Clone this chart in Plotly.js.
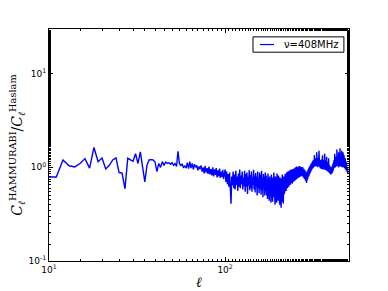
<!DOCTYPE html>
<html>
<head>
<meta charset="utf-8">
<script src="https://cdn.plot.ly/plotly-3.0.1.min.js"></script>
<style>html,body{margin:0;padding:0;background:#fff;}#chart{width:388px;height:291px;}</style>
</head>
<body>
<div id="chart"></div>
<script>
// multipole ell starts at 10, one value per integer ell
const ellStart = 10;
const seriesName = "ν=408MHz";
const ratio = [
// 10-60
0.79,0.79,1.20,1.04,1.01,1.10,1.24,0.98,1.63,1.15,1.26,0.96,1.05,1.20,1.26,0.88,0.87,0.59,1.25,1.20,
1.16,1.40,1.10,1.46,1.00,0.70,1.05,1.20,1.21,1.20,1.14,0.90,1.10,1.00,1.15,1.05,1.14,1.10,1.12,1.08,
1.12,1.05,1.10,1.02,1.48,1.10,1.05,1.08,1.00,1.03,0.98,
// 61-72
1.12,0.97,1.15,0.98,1.10,0.95,1.08,1.00,1.05,0.93,1.02,0.96,
// 73-99
1.05,0.90,1.00,0.86,1.04,0.88,0.98,0.85,1.02,0.84,0.96,0.82,1.00,0.80,0.95,0.83,0.98,0.78,0.93,0.80,
0.97,0.77,0.90,0.79,0.94,0.75,0.88,
// 100-170
0.95,0.70,0.90,0.66,0.85,0.62,0.88,0.60,0.41,0.80,0.64,0.90,0.60,0.84,0.58,0.92,0.65,0.80,0.56,0.86,
0.62,0.95,0.60,0.82,0.66,0.90,0.58,0.78,0.63,0.92,0.55,0.85,0.62,0.88,0.52,0.80,0.64,0.93,0.57,0.83,
0.60,0.90,0.55,0.78,0.65,0.94,0.58,0.82,0.54,0.87,0.62,0.80,0.50,0.90,0.60,0.76,0.53,0.88,0.59,0.83,
0.51,0.92,0.57,0.78,0.48,0.85,0.60,0.80,0.50,0.88,0.56,
// 171-215
0.82,0.50,0.75,0.46,0.86,0.52,0.70,0.44,0.80,0.50,0.74,0.42,0.84,0.55,0.68,0.43,0.78,0.48,0.88,0.52,
0.72,0.40,0.80,0.47,0.66,0.42,0.86,0.50,0.73,0.44,0.82,0.46,0.70,0.40,0.78,0.45,0.68,0.37,0.76,0.43,
0.84,0.48,0.72,0.41,0.80,
// 216-265
0.52,0.78,0.55,0.85,0.58,0.80,0.56,0.88,0.62,0.82,0.60,0.90,0.64,0.84,0.62,0.92,0.66,0.86,0.65,0.94,
0.68,0.85,0.70,0.95,0.67,0.88,0.72,0.96,0.70,0.90,0.74,0.98,0.72,0.92,0.76,1.00,0.74,0.93,0.78,1.02,
0.76,0.95,0.80,1.00,0.78,0.96,0.82,1.03,0.79,0.97,
// 266-305
0.82,1.02,0.80,0.98,0.84,1.00,0.81,0.96,0.83,1.01,0.80,0.95,0.78,0.97,0.79,0.92,0.75,0.94,0.74,0.88,
0.72,0.90,0.70,0.86,0.68,0.88,0.72,0.90,0.75,0.93,0.78,0.96,0.80,0.99,0.82,1.00,0.85,1.03,0.87,1.05,
// 306-345
0.90,1.08,0.92,1.10,0.95,1.12,0.96,1.15,0.98,1.18,1.00,1.14,1.02,1.20,1.01,1.35,1.04,1.22,1.05,1.18,
1.03,1.25,1.06,1.20,1.02,1.45,1.05,1.22,1.04,1.18,1.00,1.26,1.06,1.20,1.03,1.50,1.05,1.22,1.02,1.18,
// 346-410
1.00,1.15,0.98,1.20,1.00,1.14,0.97,1.22,1.01,1.16,0.96,1.35,0.99,1.18,0.98,1.12,0.95,1.20,0.99,1.14,
0.96,1.40,0.98,1.16,0.94,1.12,0.95,1.18,0.97,1.10,0.93,1.30,0.95,1.12,0.92,1.08,0.93,1.15,0.90,1.05,
0.91,1.25,0.89,1.03,0.88,1.06,0.87,1.00,0.86,1.02,0.85,0.98,0.84,1.00,0.86,0.97,0.85,1.00,0.87,1.02,
0.88,1.05,0.90,1.08,0.92,
// 411-490
1.10,0.95,1.14,0.98,1.20,1.00,1.16,1.02,1.40,1.03,1.20,1.00,1.25,1.04,1.18,1.02,1.30,1.05,1.22,1.03,
1.55,1.06,1.24,1.04,1.20,1.02,1.28,1.05,1.22,1.00,1.45,1.04,1.20,1.02,1.26,1.05,1.22,1.03,1.60,1.06,
1.25,1.04,1.20,1.02,1.30,1.05,1.24,1.03,1.50,1.04,1.22,1.00,1.28,1.03,1.20,1.01,1.45,1.02,1.22,1.00,
1.18,0.99,1.35,1.01,1.16,0.98,1.20,0.97,1.14,0.96,1.25,0.95,1.12,0.94,1.10,0.93,1.15,0.92,1.08,0.90,
// 491-500
1.05,0.90,1.02,0.88,1.00,0.87,0.98,0.86,0.95,0.88
];
const ell = ratio.map((_, i) => ellStart + i);

const xTickVals = [10, 100];
const xTickText = ["10<sup>1</sup>", "10<sup>2</sup>"];
const yTickVals = [0.1, 1, 10];
const yTickText = ["10<sup>-1</sup>", "10<sup>0</sup>", "10<sup>1</sup>"];

const lineColor = "#0000ff";

const trace = {
  x: ell, y: ratio, type: "scatter", mode: "lines", name: seriesName,
  line: {color: lineColor, width: 1.4}, showlegend: false
};

const axisCommon = {
  type: "log", showgrid: false, zeroline: false, showline: true, linecolor: "#000", linewidth: 1,
  mirror: "ticks", ticks: "inside", ticklen: 4, tickwidth: 1, tickcolor: "#000",
  minor: {ticks: "inside", ticklen: 2, tickwidth: 1, tickcolor: "#000", showgrid: false},
  tickfont: {family: "DejaVu Sans", size: 9, color: "#000"}
};

// legend box in paper coordinates
const L = {x0: 0.680, x1: 0.983, y0: 0.900, y1: 0.966};
const layout = {
  width: 388, height: 291,
  margin: {l: 48.5, r: 39, t: 29, b: 29.5},
  paper_bgcolor: "#fff", plot_bgcolor: "#fff",
  xaxis: Object.assign({}, axisCommon, {
    range: [1, Math.log10(505)], tickvals: xTickVals, ticktext: xTickText,
    title: {text: "<i>ℓ</i>", font: {family: "DejaVu Serif", size: 14, color: "#000"}, standoff: 3}
  }),
  yaxis: Object.assign({}, axisCommon, {
    range: [-1, Math.log10(30)], tickvals: yTickVals, ticktext: yTickText,
    title: {text: "<i>C</i><sub><i>ℓ</i></sub><sup>HAMMURABI</sup>/<i>C</i><sub><i>ℓ</i></sub><sup>Haslam</sup>",
            font: {family: "DejaVu Serif", size: 14, color: "#000"}, standoff: 2}
  }),
  shapes: [
    {type: "rect", xref: "paper", yref: "paper", x0: L.x0, x1: L.x1, y0: L.y0, y1: L.y1,
     line: {color: "#000", width: 1}, fillcolor: "#fff"},
    {type: "line", xref: "paper", yref: "paper", x0: L.x0 + 0.023, x1: L.x0 + 0.070,
     y0: (L.y0 + L.y1) / 2, y1: (L.y0 + L.y1) / 2, line: {color: lineColor, width: 1.2}}
  ],
  annotations: [
    {xref: "paper", yref: "paper", x: L.x0 + 0.095, y: (L.y0 + L.y1) / 2, xanchor: "left", yanchor: "middle",
     text: seriesName, showarrow: false, font: {family: "DejaVu Sans", size: 10, color: "#000"}}
  ]
};

Plotly.newPlot("chart", [trace], layout, {displayModeBar: false, staticPlot: true});
</script>
</body>
</html>
